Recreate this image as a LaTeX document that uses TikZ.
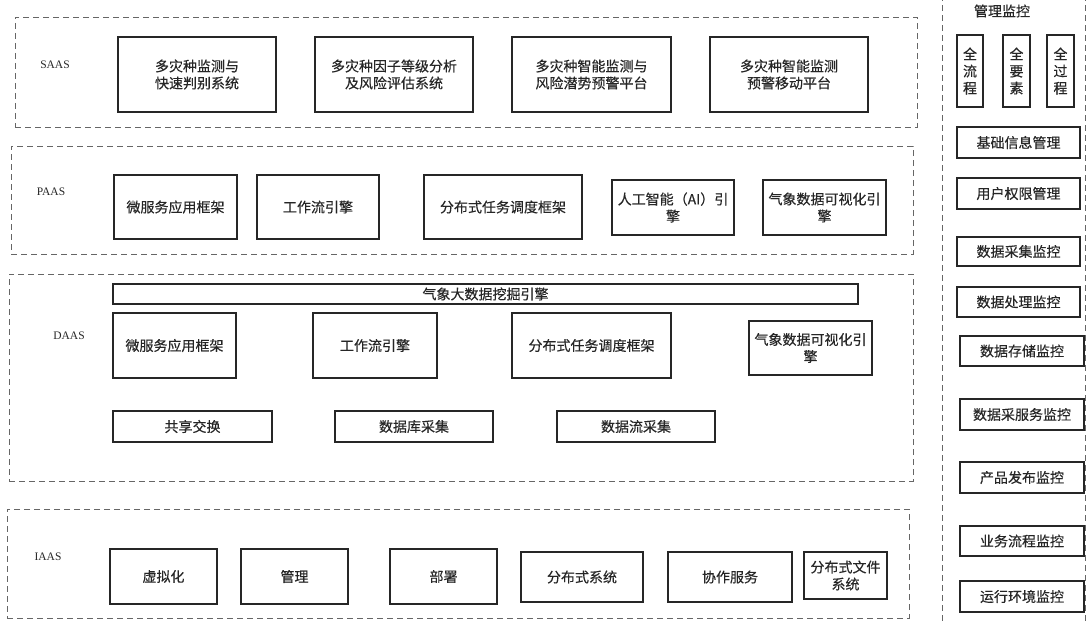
\documentclass[tikz,border=0pt]{standalone}
\usepackage{fontspec}
\setmainfont{Liberation Serif}
\newfontfamily\cjk[FakeBold=0.35]{Noto Sans CJK SC}
\tikzset{
  box/.style={draw=black!85, line width=1.3pt, inner sep=1pt, outer sep=0pt, align=center,
    font=\cjk\fontsize{14}{17}\selectfont, text=black!85},
  layer/.style={draw=black!60, line width=0.9pt, dash pattern=on 6pt off 4pt, inner sep=0pt, outer sep=0pt},
  lbl/.style={font=\fontsize{11.5}{13}\selectfont, text=black!85, inner sep=0pt},
  ttl/.style={font=\cjk\fontsize{14}{16}\selectfont, text=black!85, inner sep=0pt},
}
\newcommand\bx[6]{\node[box, minimum width={#4-#2}, minimum height={#5-#3}] (#1) at ({(#2+#4)/2},{(#3+#5)/2}) {#6};}
\newcommand\lay[5]{\node[layer, minimum width={#4-#2}, minimum height={#5-#3}] (#1) at ({(#2+#4)/2},{(#3+#5)/2}) {};}
\begin{document}
\begin{tikzpicture}[x=1pt,y=-1pt]
\useasboundingbox (0,0) rectangle (1089,621);
% layers
\lay{Ls}{15}{17}{917}{127}
\lay{Lp}{11}{146}{913}{254}
\lay{Ld}{9}{274}{913}{481}
\lay{Li}{7}{509}{909}{618}
\node[lbl] (saas) at (55,65) {SAAS};
\node[lbl] (paas) at (51,192) {PAAS};
\node[lbl] (daas) at (69,336) {DAAS};
\node[lbl] (iaas) at (48,557) {IAAS};
% SAAS
\bx{s1}{118}{37}{276}{112}{多灾种监测与\\快速判别系统}
\bx{s2}{315}{37}{473}{112}{多灾种因子等级分析\\及风险评估系统}
\bx{s3}{512}{37}{671}{112}{多灾种智能监测与\\风险潜势预警平台}
\bx{s4}{710}{37}{868}{112}{多灾种智能监测\\预警移动平台}
% PAAS
\bx{p1}{114}{175}{237}{239}{微服务应用框架}
\bx{p2}{257}{175}{379}{239}{工作流引擎}
\bx{p3}{424}{175}{582}{239}{分布式任务调度框架}
\bx{p4}{612}{180}{734}{235}{人工智能（AI）引\\擎}
\bx{p5}{763}{180}{886}{235}{气象数据可视化引\\擎}
% DAAS
\bx{d0}{113}{284}{858}{304}{气象大数据挖掘引擎}
\bx{d1}{113}{313}{236}{378}{微服务应用框架}
\bx{d2}{313}{313}{437}{378}{工作流引擎}
\bx{d3}{512}{313}{671}{378}{分布式任务调度框架}
\bx{d4}{749}{321}{872}{375}{气象数据可视化引\\擎}
\bx{d5}{113}{411}{272}{442}{共享交换}
\bx{d6}{335}{411}{493}{442}{数据库采集}
\bx{d7}{557}{411}{715}{442}{数据流采集}
% IAAS
\bx{i1}{110}{549}{217}{604}{虚拟化}
\bx{i2}{241}{549}{348}{604}{管理}
\bx{i3}{390}{549}{497}{604}{部署}
\bx{i4}{521}{552}{643}{602}{分布式系统}
\bx{i5}{668}{552}{792}{602}{协作服务}
\bx{i6}{804}{552}{887}{599}{分布式文件\\系统}
% right column
\coordinate (rlt) at (942,-5);
\coordinate (rlb) at (942,626);
\coordinate (rrt) at (1085,-5);
\coordinate (rrb) at (1085,626);
\draw[layer] (rlt) -- (rlb);
\draw[layer] (rrt) -- (rrb);
\node[ttl] (mt) at (1002,11) {管理监控};
\bx{r1}{957}{35}{983}{107}{全\\流\\程}
\bx{r2}{1003}{35}{1030}{107}{全\\要\\素}
\bx{r3}{1047}{35}{1074}{107}{全\\过\\程}
\bx{m1}{957}{127}{1080}{158}{基础信息管理}
\bx{m2}{957}{178}{1080}{209}{用户权限管理}
\bx{m3}{957}{237}{1080}{266}{数据采集监控}
\bx{m4}{957}{287}{1080}{317}{数据处理监控}
\bx{m5}{960}{336}{1084}{366}{数据存储监控}
\bx{m6}{960}{399}{1084}{430}{数据采服务监控}
\bx{m7}{960}{462}{1084}{493}{产品发布监控}
\bx{m8}{960}{526}{1084}{556}{业务流程监控}
\bx{m9}{960}{581}{1084}{612}{运行环境监控}
\end{tikzpicture}
\end{document}
